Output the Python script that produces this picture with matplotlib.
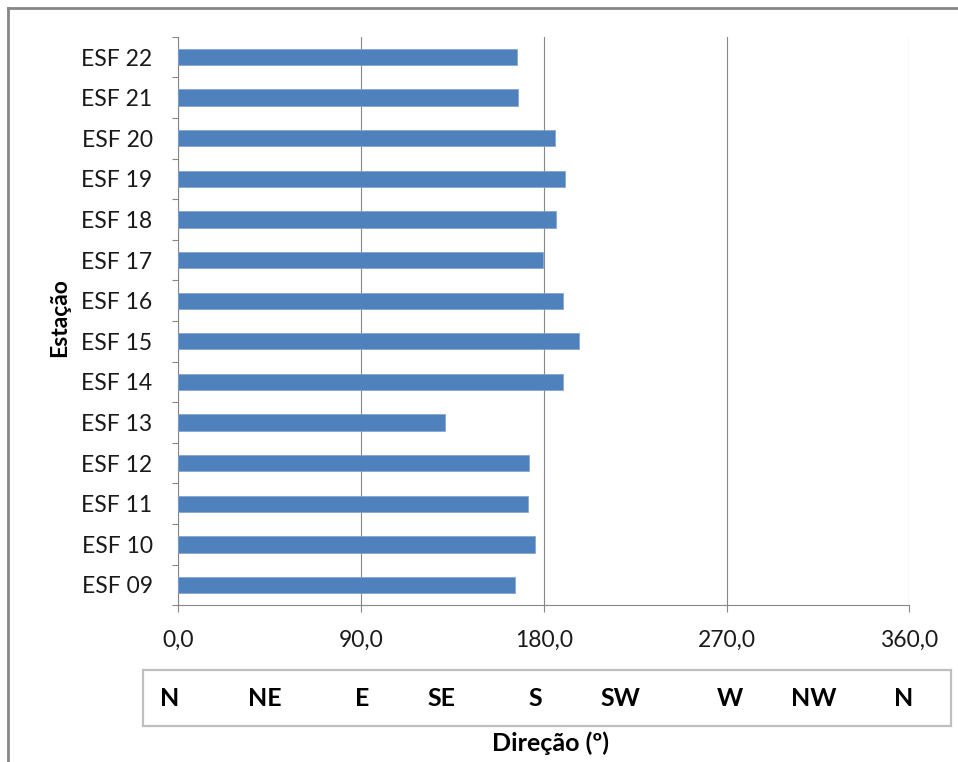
import matplotlib
matplotlib.use("Agg")
import matplotlib.pyplot as plt
from matplotlib.patches import Rectangle
from matplotlib.lines import Line2D
from matplotlib.ticker import FixedLocator

plt.rcParams["font.family"] = ["Lato", "DejaVu Sans"]

# Mean direction per station (degrees)
stations = ["ESF 09", "ESF 10", "ESF 11", "ESF 12", "ESF 13", "ESF 14", "ESF 15",
            "ESF 16", "ESF 17", "ESF 18", "ESF 19", "ESF 20", "ESF 21", "ESF 22"]
directions = [165.9, 175.5, 172.2, 172.8, 131.2, 189.3, 197.4,
              189.3, 179.7, 186.1, 190.5, 185.5, 167.1, 166.6]
angle_ticks = [0, 90, 180, 270, 360]
compass_labels = ["N", "NE", "E", "SE", "S", "SW", "W", "NW", "N"]

W, H = 958, 762
fig = plt.figure(figsize=(W / 100, H / 100), dpi=100)


def fx(px):
    return px / W


def fy(py):
    return 1 - py / H


ax_left, ax_right, ax_top, ax_bottom = 178.3, 909.3, 36.7, 605.3
ax = fig.add_axes([fx(ax_left), fy(ax_bottom), fx(ax_right - ax_left), (ax_bottom - ax_top) / H])

grid_color = "#878787"
text_color = "#1a1a1a"

ypos = list(range(len(stations)))
ax.barh(ypos, directions, height=0.4, color="#4F81BD", edgecolor="#7EA2CF",
        linewidth=0.5, zorder=3)

ax.set_xlim(0, 360)
ax.set_ylim(-0.5, len(stations) - 0.5)

ax.xaxis.set_major_locator(FixedLocator(angle_ticks))
ax.set_xticklabels([f"{v:.1f}".replace(".", ",") for v in angle_ticks])
ax.grid(axis="x", color=grid_color, linewidth=0.8, zorder=0)
ax.tick_params(axis="x", direction="out", length=5, width=0.8, color=grid_color,
               labelsize=16.5, labelcolor=text_color, pad=13)

ax.set_yticks(ypos)
ax.set_yticklabels(stations)
ax.yaxis.set_minor_locator(FixedLocator([i - 0.5 for i in range(len(stations) + 1)]))
ax.tick_params(axis="y", which="major", length=0, labelsize=16.5,
               labelcolor=text_color, pad=18.5)
ax.tick_params(axis="y", which="minor", direction="out", length=4, width=0.8,
               color=grid_color)

for side in ("top", "right"):
    ax.spines[side].set_visible(False)
for side in ("left", "bottom"):
    ax.spines[side].set_color(grid_color)
    ax.spines[side].set_linewidth(0.8)

# Axis titles
fig.text(fx(60), fy(318), "Estação", rotation=90, ha="center", va="center",
         fontsize=16.5, fontweight="bold", color="#000000")
fig.text(fx(551), fy(743), "Direção (º)", ha="center", va="center",
         fontsize=18, fontweight="bold", color="#000000")

# Compass reference strip under the x axis
box_l, box_r, box_t, box_b = 143, 950.7, 670, 726
fig.add_artist(Rectangle((fx(box_l), fy(box_b)), fx(box_r - box_l), (box_b - box_t) / H,
                         transform=fig.transFigure, fill=False,
                         edgecolor="#BFBFBF", linewidth=1.6))
compass_x = [170, 265, 361.7, 441.7, 535.7, 620.8, 730, 813.3, 903.3]
for lbl, xp in zip(compass_labels, compass_x):
    fig.text(fx(xp), fy(699), lbl, ha="center", va="center", fontsize=18,
             fontweight="bold", color="#000000")

# Frame edges (top and left)
fig.add_artist(Line2D([fx(8), fx(W)], [fy(8), fy(8)], transform=fig.transFigure,
                      color="#878787", linewidth=2))
fig.add_artist(Line2D([fx(8), fx(8)], [fy(8), fy(H)], transform=fig.transFigure,
                      color="#878787", linewidth=2))

fig.savefig("out.png", dpi=100, facecolor="white")
